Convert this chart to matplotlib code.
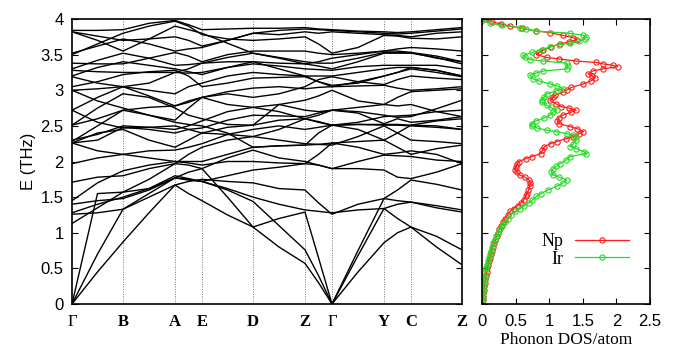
import matplotlib
matplotlib.use('Agg')
import matplotlib.pyplot as plt

# high symmetry path (distances in arbitrary k units) with one midpoint per segment
K_LABELS = ['Γ', 'B', 'A', 'E', 'D', 'Z', 'Γ', 'Y', 'C', 'Z']
K_NODES = [0, 51, 103, 130, 181, 233, 260, 312, 339, 390]
K_POS = [0, 25.5, 51, 77, 103, 116.5, 130, 155.5, 181, 207, 233, 246.5, 260, 286, 312, 325.5, 339, 364.5, 390]

# phonon branches (THz), one value per K_POS
bands = [
    [0.00, 0.45, 0.87, 1.28, 1.67, 1.55, 1.45, 1.25, 1.08, 0.80, 0.57, 0.30, 0.00, 0.45, 0.86, 1.00, 1.08, 0.80, 0.55],
    [0.00, 0.70, 1.33, 1.55, 1.77, 1.75, 1.72, 1.60, 1.44, 1.10, 0.76, 0.40, 0.00, 0.68, 1.34, 1.20, 1.08, 0.95, 0.76],
    [0.00, 1.55, 1.57, 1.75, 1.97, 1.95, 1.90, 1.50, 1.08, 1.20, 1.29, 0.65, 0.00, 0.75, 1.48, 1.45, 1.43, 1.35, 1.29],
    [1.13, 1.35, 1.57, 1.62, 1.77, 1.74, 1.72, 1.62, 1.50, 1.40, 1.32, 1.30, 1.28, 1.32, 1.34, 1.40, 1.43, 1.38, 1.32],
    [1.26, 1.28, 1.33, 1.50, 1.67, 1.72, 1.75, 1.72, 1.70, 1.62, 1.60, 1.42, 1.26, 1.40, 1.48, 1.60, 1.74, 1.68, 1.60],
    [1.28, 1.40, 1.50, 1.62, 1.80, 1.76, 1.72, 1.80, 1.88, 1.92, 1.97, 1.95, 1.90, 1.90, 1.88, 1.78, 1.76, 1.85, 1.97],
    [1.40, 1.45, 1.48, 1.60, 1.77, 1.85, 1.90, 2.05, 2.16, 2.05, 2.00, 1.95, 1.90, 2.00, 2.09, 2.08, 2.07, 2.02, 2.00],
    [1.45, 1.70, 1.87, 1.95, 2.00, 2.00, 2.00, 2.10, 2.20, 2.22, 2.23, 2.24, 2.26, 2.28, 2.30, 2.20, 2.10, 2.18, 2.23],
    [1.71, 1.78, 1.80, 1.90, 1.97, 2.10, 2.20, 2.30, 2.35, 2.30, 2.25, 2.24, 2.23, 2.35, 2.50, 2.40, 2.30, 2.28, 2.25],
    [1.97, 2.05, 2.10, 2.15, 2.16, 2.20, 2.25, 2.38, 2.45, 2.50, 2.45, 2.48, 2.51, 2.52, 2.51, 2.51, 2.50, 2.48, 2.45],
    [2.26, 2.40, 2.45, 2.30, 2.20, 2.30, 2.40, 2.48, 2.51, 2.58, 2.60, 2.56, 2.51, 2.52, 2.52, 2.52, 2.51, 2.57, 2.60],
    [2.26, 2.30, 2.48, 2.45, 2.40, 2.45, 2.47, 2.58, 2.65, 2.64, 2.63, 2.68, 2.72, 2.68, 2.53, 2.60, 2.55, 2.58, 2.63],
    [2.28, 2.50, 2.72, 2.65, 2.55, 2.52, 2.50, 2.40, 2.20, 2.22, 2.23, 2.40, 2.51, 2.55, 2.63, 2.64, 2.65, 2.70, 2.72],
    [2.30, 2.38, 2.50, 2.48, 2.45, 2.50, 2.57, 2.70, 2.76, 2.80, 2.72, 2.70, 2.72, 2.70, 2.65, 2.62, 2.63, 2.74, 2.86],
    [2.51, 2.75, 2.95, 2.90, 2.75, 2.65, 2.60, 2.52, 2.51, 2.80, 2.86, 2.92, 3.00, 2.85, 2.80, 2.90, 2.98, 3.00, 3.02],
    [2.72, 2.55, 2.47, 2.48, 2.50, 2.45, 2.40, 2.38, 2.35, 2.45, 2.60, 2.65, 2.72, 2.76, 2.80, 2.78, 2.80, 2.70, 2.63],
    [2.72, 2.90, 3.05, 2.92, 2.78, 2.85, 2.90, 2.98, 3.03, 3.05, 3.02, 3.04, 3.05, 3.06, 3.07, 3.03, 3.00, 3.02, 3.05],
    [3.00, 2.85, 2.75, 2.65, 2.58, 2.75, 2.90, 2.95, 2.90, 2.95, 3.05, 3.15, 3.19, 3.12, 3.08, 3.15, 3.20, 3.17, 3.15],
    [3.05, 3.12, 3.22, 3.26, 3.28, 3.20, 3.05, 3.10, 3.17, 3.18, 3.19, 3.12, 3.05, 3.12, 3.20, 3.25, 3.30, 3.25, 3.19],
    [3.19, 3.10, 3.05, 3.00, 2.95, 3.05, 3.10, 3.20, 3.25, 3.22, 3.20, 3.20, 3.20, 3.25, 3.30, 3.32, 3.32, 3.28, 3.20],
    [3.20, 3.32, 3.40, 3.35, 3.30, 3.26, 3.22, 3.32, 3.37, 3.34, 3.30, 3.29, 3.28, 3.33, 3.35, 3.35, 3.35, 3.35, 3.30],
    [3.28, 3.26, 3.25, 3.25, 3.25, 3.24, 3.25, 3.32, 3.40, 3.38, 3.37, 3.34, 3.30, 3.40, 3.52, 3.52, 3.52, 3.46, 3.37],
    [3.30, 3.42, 3.52, 3.45, 3.35, 3.36, 3.38, 3.46, 3.52, 3.46, 3.40, 3.38, 3.38, 3.45, 3.53, 3.53, 3.53, 3.48, 3.40],
    [3.38, 3.37, 3.37, 3.45, 3.53, 3.48, 3.40, 3.50, 3.55, 3.55, 3.55, 3.52, 3.50, 3.52, 3.55, 3.58, 3.60, 3.58, 3.55],
    [3.50, 3.65, 3.80, 3.90, 3.97, 3.90, 3.78, 3.72, 3.70, 3.72, 3.75, 3.65, 3.52, 3.60, 3.77, 3.76, 3.73, 3.72, 3.75],
    [3.52, 3.62, 3.72, 3.65, 3.55, 3.58, 3.60, 3.70, 3.80, 3.78, 3.82, 3.80, 3.82, 3.80, 3.78, 3.77, 3.75, 3.80, 3.82],
    [3.82, 3.70, 3.55, 3.72, 3.90, 3.85, 3.80, 3.66, 3.52, 3.45, 3.37, 3.40, 3.45, 3.50, 3.55, 3.55, 3.53, 3.45, 3.40],
    [3.82, 3.76, 3.70, 3.72, 3.75, 3.70, 3.62, 3.70, 3.80, 3.84, 3.86, 3.85, 3.84, 3.82, 3.80, 3.79, 3.80, 3.83, 3.86],
    [3.84, 3.84, 3.85, 3.94, 3.98, 3.92, 3.85, 3.86, 3.87, 3.87, 3.88, 3.86, 3.85, 3.83, 3.82, 3.81, 3.82, 3.85, 3.88],
    [2.26, 2.15, 2.10, 2.05, 2.00, 1.98, 1.95, 2.00, 2.00, 1.98, 1.97, 2.10, 2.26, 2.20, 2.10, 2.12, 2.15, 2.10, 1.97],
    [3.00, 3.02, 3.05, 3.10, 3.25, 3.30, 3.38, 3.40, 3.40, 3.30, 3.20, 3.12, 3.07, 3.10, 3.20, 3.25, 3.32, 3.28, 3.20],
    [2.51, 2.60, 2.72, 2.76, 2.78, 2.83, 2.90, 2.80, 2.76, 2.70, 2.60, 2.55, 2.51, 2.45, 2.30, 2.40, 2.51, 2.50, 2.45],
]

# partial phonon DOS
np_energy = [0.00, 0.05, 0.10, 0.15, 0.20, 0.25, 0.30, 0.35, 0.40, 0.45, 0.50, 0.55, 0.60, 0.65, 0.70, 0.75,
             0.80, 0.85, 0.90, 0.95, 1.00, 1.05, 1.10, 1.15, 1.20, 1.25, 1.30, 1.34, 1.38, 1.42, 1.46, 1.51,
             1.55, 1.60, 1.65, 1.70, 1.74, 1.78, 1.81, 1.85, 1.88, 1.92, 1.96, 2.00, 2.04, 2.07, 2.11, 2.16,
             2.21, 2.25, 2.28, 2.32, 2.35, 2.39, 2.42, 2.46, 2.49, 2.53, 2.57, 2.61, 2.65, 2.69, 2.72, 2.75,
             2.77, 2.81, 2.86, 2.90, 2.93, 2.97, 3.00, 3.04, 3.09, 3.13, 3.17, 3.20, 3.23, 3.27, 3.30, 3.33,
             3.35, 3.37, 3.39, 3.41, 3.44, 3.46, 3.50, 3.53, 3.56, 3.61, 3.65, 3.68, 3.71, 3.74, 3.77, 3.81,
             3.83, 3.87, 3.90, 3.93, 3.96, 4.00]
np_dos = [0.00, 0.01, 0.015, 0.02, 0.03, 0.035, 0.045, 0.05, 0.06, 0.07, 0.08, 0.09, 0.10, 0.115, 0.13, 0.145,
          0.165, 0.18, 0.20, 0.22, 0.24, 0.26, 0.28, 0.31, 0.34, 0.38, 0.42, 0.47, 0.53, 0.58, 0.62, 0.65,
          0.67, 0.69, 0.71, 0.72, 0.70, 0.64, 0.56, 0.52, 0.49, 0.50, 0.52, 0.55, 0.65, 0.74, 0.88, 0.90,
          0.93, 1.02, 1.11, 1.25, 1.36, 1.45, 1.51, 1.42, 1.31, 1.15, 1.12, 1.14, 1.20, 1.32, 1.40, 1.30,
          1.18, 1.10, 1.01, 1.05, 1.09, 1.20, 1.26, 1.33, 1.51, 1.62, 1.68, 1.64, 1.58, 1.65, 1.80, 2.02,
          1.95, 1.80, 1.70, 1.40, 1.15, 0.96, 0.81, 0.85, 0.91, 1.02, 1.16, 1.30, 1.42, 1.35, 1.20, 1.01,
          0.81, 0.60, 0.42, 0.29, 0.15, 0.04]

ir_energy = [0.00, 0.05, 0.10, 0.15, 0.20, 0.25, 0.30, 0.35, 0.40, 0.45, 0.50, 0.55, 0.60, 0.65, 0.70, 0.75,
             0.80, 0.85, 0.90, 0.95, 1.00, 1.05, 1.10, 1.15, 1.20, 1.25, 1.30, 1.34, 1.38, 1.42, 1.46, 1.51,
             1.55, 1.60, 1.65, 1.70, 1.74, 1.78, 1.81, 1.85, 1.89, 1.93, 1.97, 2.02, 2.07, 2.11, 2.14, 2.18,
             2.21, 2.25, 2.30, 2.34, 2.37, 2.39, 2.42, 2.44, 2.47, 2.50, 2.53, 2.57, 2.61, 2.65, 2.69, 2.72,
             2.76, 2.79, 2.83, 2.86, 2.90, 2.95, 2.99, 3.02, 3.06, 3.09, 3.13, 3.16, 3.21, 3.24, 3.27, 3.30,
             3.34, 3.38, 3.41, 3.43, 3.46, 3.49, 3.53, 3.57, 3.61, 3.64, 3.66, 3.69, 3.72, 3.75, 3.77, 3.80,
             3.83, 3.86, 3.88, 3.91, 3.94, 3.98]
ir_dos = [0.00, 0.005, 0.01, 0.015, 0.02, 0.025, 0.03, 0.04, 0.045, 0.05, 0.06, 0.07, 0.085, 0.10, 0.115, 0.13,
          0.15, 0.17, 0.19, 0.21, 0.24, 0.27, 0.30, 0.34, 0.38, 0.43, 0.49, 0.56, 0.63, 0.70, 0.75, 0.81,
          0.88, 0.98, 1.11, 1.21, 1.26, 1.15, 1.06, 1.03, 1.05, 1.10, 1.16, 1.25, 1.31, 1.55, 1.52, 1.40,
          1.31, 1.36, 1.40, 1.40, 1.35, 1.26, 1.10, 0.96, 0.82, 0.74, 0.74, 0.80, 0.92, 1.01, 1.06, 1.11,
          1.02, 0.96, 0.90, 0.89, 0.92, 0.96, 1.10, 1.21, 1.12, 1.01, 0.85, 0.76, 0.71, 0.80, 0.91, 1.26,
          1.28, 1.26, 0.91, 0.72, 0.64, 0.61, 0.75, 0.90, 1.01, 1.15, 1.31, 1.45, 1.53, 1.55, 1.51, 1.31,
          0.81, 0.65, 0.56, 0.30, 0.12, 0.02]

RED = '#ff1a1a'
GREEN = '#22dd22'
SANS = 'Liberation Sans'
SERIF = 'Liberation Serif'

fig = plt.figure(figsize=(6.81, 3.51), dpi=100)
ax = fig.add_axes([72 / 681, 1 - 304 / 351, 390 / 681, 285 / 351])
ax2 = fig.add_axes([482 / 681, 1 - 304 / 351, 168 / 681, 285 / 351])

# band structure
for x in K_NODES[1:-1]:
    ax.axvline(x, color='0.45', ls=(0, (1, 1.5)), lw=0.7, zorder=1)
for band in bands:
    ax.plot(K_POS, band, color='black', lw=1.0, zorder=2)

ax.set_xlim(0, 390)
ax.set_ylim(0, 4)
ax.set_xticks(K_NODES)
ax.set_xticklabels(K_LABELS, fontfamily=SERIF, fontweight='bold', fontsize=12)
for lab in ax.get_xticklabels():
    if lab.get_text() == 'Γ':
        lab.set_fontweight('normal')
ax.tick_params(axis='x', length=0, pad=7)
ax.set_yticks([0, 0.5, 1, 1.5, 2, 2.5, 3, 3.5, 4])
ax.set_yticklabels(['0', '0.5', '1', '1.5', '2', '2.5', '3', '3.5', '4'], fontfamily=SANS, fontsize=12)
ax.tick_params(axis='y', direction='in', length=4, right=True, pad=6)
ax.set_ylabel('E (THz)', fontfamily=SANS, fontsize=12, labelpad=3)
for s in ax.spines.values():
    s.set_linewidth(1.2)

# DOS panel
ax2.plot(np_dos, np_energy, color=RED, lw=0.9, marker='o', ms=3.8, mfc='none', mew=0.8, label='Np')
ax2.plot(ir_dos, ir_energy, color=GREEN, lw=0.9, marker='o', ms=3.8, mfc='none', mew=0.8, label='Ir')
ax2.set_xlim(0, 2.5)
ax2.set_ylim(0, 4)
ax2.set_xticks([0, 0.5, 1, 1.5, 2, 2.5])
ax2.set_xticklabels(['0', '0.5', '1', '1.5', '2', '2.5'], fontfamily=SANS, fontsize=12)
ax2.set_yticks([0, 0.5, 1, 1.5, 2, 2.5, 3, 3.5, 4])
ax2.set_yticklabels([])
ax2.tick_params(axis='y', direction='in', length=4, right=True)
ax2.tick_params(axis='x', direction='in', length=4, top=True, pad=7)
ax2.set_xlabel('Phonon DOS/atom', fontfamily=SERIF, fontsize=12.5, labelpad=2)
for s in ax2.spines.values():
    s.set_linewidth(1.2)

ax2.legend(loc='lower right', bbox_to_anchor=(0.97, 0.07), frameon=False, markerfirst=False, numpoints=1,
           handlelength=3.0, handletextpad=0.6, labelspacing=0.05, prop={'family': SERIF, 'size': 13})

fig.savefig('out.png', dpi=100)
